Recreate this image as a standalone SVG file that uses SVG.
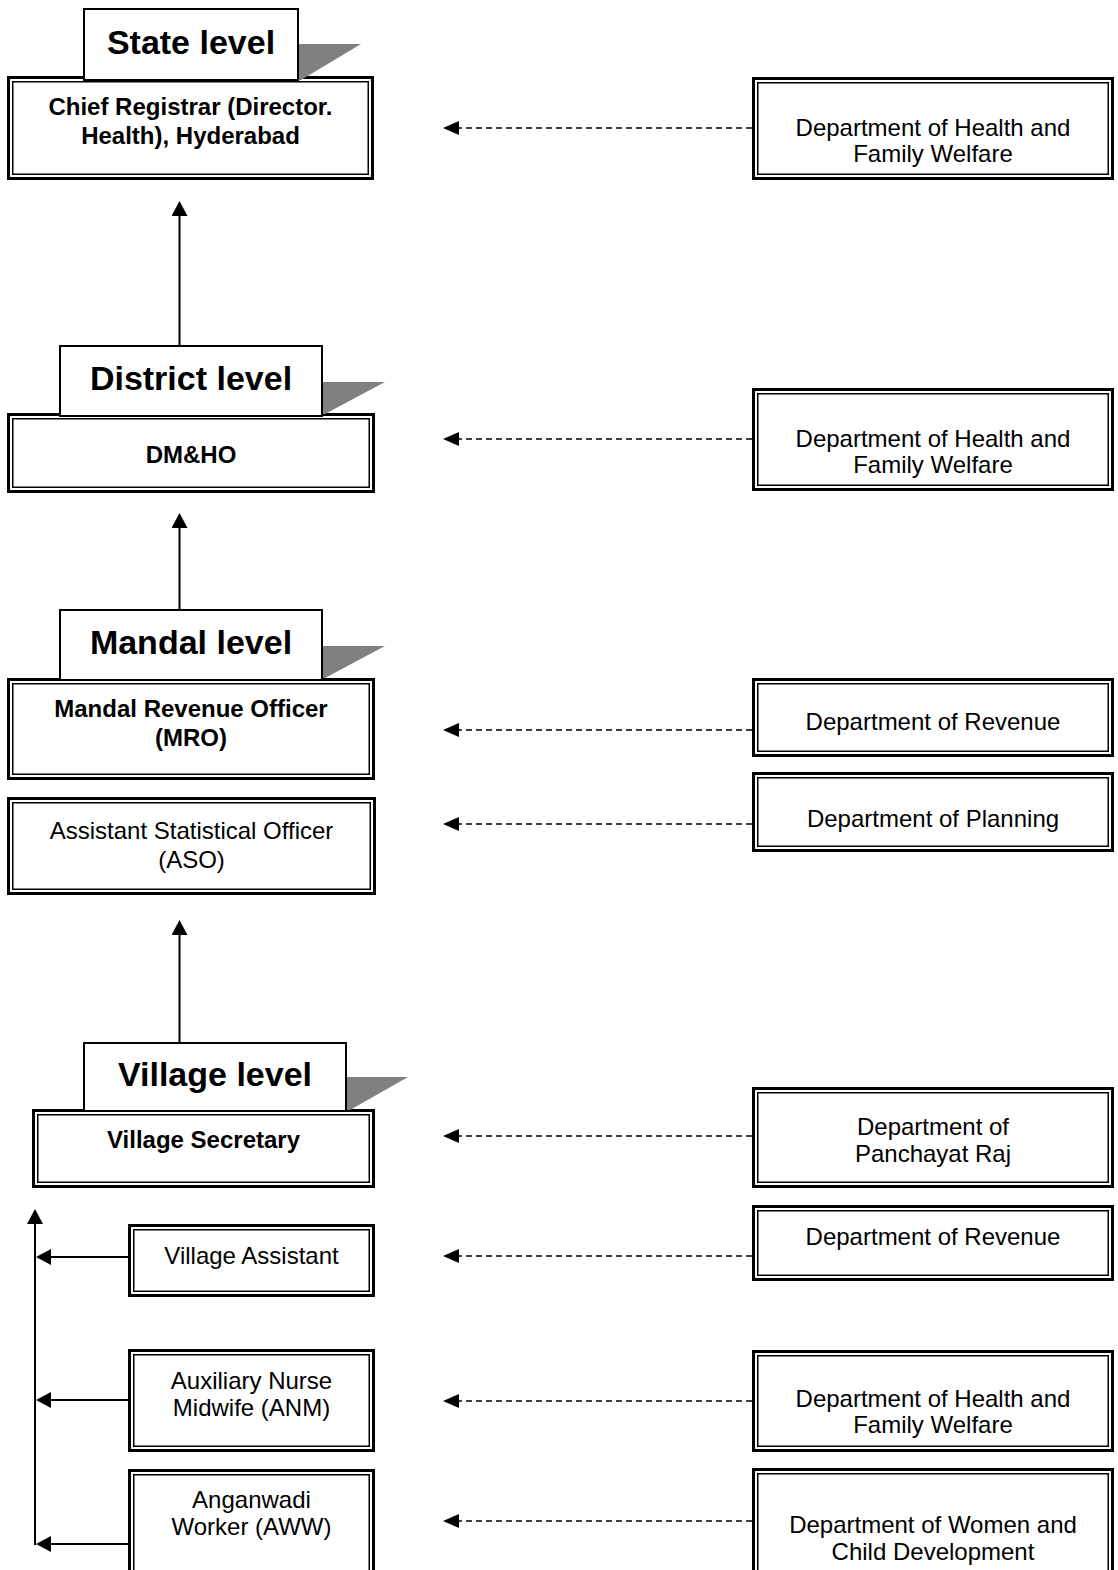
<svg xmlns="http://www.w3.org/2000/svg" width="1118" height="1570" viewBox="0 0 1118 1570">
<style>
text{font-family:"Liberation Sans",Arial,Helvetica,sans-serif;fill:#000;text-anchor:middle}
.b{font-weight:bold;font-size:24px}
.r{font-size:24px}
.lv{font-weight:bold;font-size:34px}
.o{fill:#fff;stroke:#000;stroke-width:3}
.i{fill:none;stroke:#000;stroke-width:1.5}
.lab{fill:#fff;stroke:#000;stroke-width:2}
.tri{fill:#808080;stroke:none}
.sol{stroke:#000;stroke-width:2;fill:none}
.dash{stroke:#000;stroke-width:1.5;stroke-dasharray:6 4;fill:none}
</style>
<defs>
<marker id="ah" markerUnits="userSpaceOnUse" viewBox="0 0 15 16" refX="0" refY="8" markerWidth="15" markerHeight="16" orient="auto"><path d="M0,0 L15,8 L0,16 z" fill="#000"/></marker>
<marker id="ad" markerUnits="userSpaceOnUse" viewBox="0 0 16 14" refX="0" refY="7" markerWidth="16" markerHeight="14" orient="auto"><path d="M0,0 L16,7 L0,14 z" fill="#000"/></marker>
</defs>

<g id="connectors">
<line class="sol" x1="179.5" y1="345" x2="179.5" y2="216" marker-end="url(#ah)"/>
<line class="sol" x1="179.5" y1="609" x2="179.5" y2="528" marker-end="url(#ah)"/>
<line class="sol" x1="179.5" y1="1042" x2="179.5" y2="935" marker-end="url(#ah)"/>
<line class="sol" x1="35" y1="1545" x2="35" y2="1224" marker-end="url(#ah)"/>
<line class="sol" x1="128" y1="1257" x2="51" y2="1257" marker-end="url(#ah)"/>
<line class="sol" x1="128" y1="1400" x2="51" y2="1400" marker-end="url(#ah)"/>
<line class="sol" x1="128" y1="1544" x2="51" y2="1544" marker-end="url(#ah)"/>
<line class="dash" x1="752" y1="128" x2="459" y2="128" marker-end="url(#ad)"/>
<line class="dash" x1="752" y1="439" x2="459" y2="439" marker-end="url(#ad)"/>
<line class="dash" x1="752" y1="730" x2="459" y2="730" marker-end="url(#ad)"/>
<line class="dash" x1="752" y1="824" x2="459" y2="824" marker-end="url(#ad)"/>
<line class="dash" x1="752" y1="1136" x2="459" y2="1136" marker-end="url(#ad)"/>
<line class="dash" x1="752" y1="1256" x2="459" y2="1256" marker-end="url(#ad)"/>
<line class="dash" x1="752" y1="1401" x2="459" y2="1401" marker-end="url(#ad)"/>
<line class="dash" x1="752" y1="1521" x2="459" y2="1521" marker-end="url(#ad)"/>
</g>

<g id="chief-registrar">
<rect class="o" x="8.5" y="77.5" width="364" height="101"/>
<rect class="i" x="12.75" y="81.75" width="355.5" height="92.5"/>
<text class="b" x="190.5" y="115">Chief Registrar (Director.</text>
<text class="b" x="190.5" y="144">Health), Hyderabad</text>
</g>
<g id="state-level">
<polygon class="tri" points="299,44 361,44 301,80 299,80"/>
<rect class="lab" x="84" y="9" width="214" height="71"/>
<text class="lv" x="191" y="54">State level</text>
</g>

<g id="dmho">
<rect class="o" x="8.5" y="414.5" width="365" height="77"/>
<rect class="i" x="12.75" y="418.75" width="356.5" height="68.5"/>
<text class="b" x="191" y="463">DM&amp;HO</text>
</g>
<g id="district-level">
<polygon class="tri" points="323,382 385,382 325,414 323,414"/>
<rect class="lab" x="60" y="346" width="262" height="70"/>
<text class="lv" x="191" y="390">District level</text>
</g>

<g id="mro">
<rect class="o" x="8.5" y="679.5" width="365" height="99"/>
<rect class="i" x="12.75" y="683.75" width="356.5" height="90.5"/>
<text class="b" x="191" y="717">Mandal Revenue Officer</text>
<text class="b" x="191" y="746">(MRO)</text>
</g>
<g id="mandal-level">
<polygon class="tri" points="323,646 385,646 325,678 323,678"/>
<rect class="lab" x="60" y="610" width="262" height="70"/>
<text class="lv" x="191" y="654">Mandal level</text>
</g>

<g id="aso">
<rect class="o" x="8.5" y="798.5" width="366" height="95"/>
<rect class="i" x="12.75" y="802.75" width="357.5" height="86.5"/>
<text class="r" x="191.5" y="839">Assistant Statistical Officer</text>
<text class="r" x="191.5" y="868">(ASO)</text>
</g>

<g id="village-secretary">
<rect class="o" x="33.5" y="1110.5" width="340" height="76"/>
<rect class="i" x="37.75" y="1114.75" width="331.5" height="67.5"/>
<text class="b" x="203.5" y="1148">Village Secretary</text>
</g>
<g id="village-level">
<polygon class="tri" points="347,1077 408,1077 350,1110 347,1110"/>
<rect class="lab" x="84" y="1043" width="262" height="68"/>
<text class="lv" x="215" y="1086">Village level</text>
</g>

<g id="village-assistant">
<rect class="o" x="129.5" y="1225.5" width="244" height="70"/>
<rect class="i" x="133.75" y="1229.75" width="235.5" height="61.5"/>
<text class="r" x="251.5" y="1264">Village Assistant</text>
</g>

<g id="anm">
<rect class="o" x="129.5" y="1350.5" width="244" height="100"/>
<rect class="i" x="133.75" y="1354.75" width="235.5" height="91.5"/>
<text class="r" x="251.5" y="1389">Auxiliary Nurse</text>
<text class="r" x="251.5" y="1416">Midwife (ANM)</text>
</g>

<g id="aww">
<rect class="o" x="129.5" y="1470.5" width="244" height="110"/>
<rect class="i" x="133.75" y="1474.75" width="235.5" height="110"/>
<text class="r" x="251.5" y="1508">Anganwadi</text>
<text class="r" x="251.5" y="1535">Worker (AWW)</text>
</g>

<g id="dept-health-1">
<rect class="o" x="753.5" y="78.5" width="359" height="100"/>
<rect class="i" x="757.75" y="82.75" width="350.5" height="91.5"/>
<text class="r" x="933" y="136">Department of Health and</text>
<text class="r" x="933" y="162">Family Welfare</text>
</g>

<g id="dept-health-2">
<rect class="o" x="753.5" y="389.5" width="359" height="100"/>
<rect class="i" x="757.75" y="393.75" width="350.5" height="91.5"/>
<text class="r" x="933" y="447">Department of Health and</text>
<text class="r" x="933" y="473">Family Welfare</text>
</g>

<g id="dept-revenue-1">
<rect class="o" x="753.5" y="679.5" width="359" height="76"/>
<rect class="i" x="757.75" y="683.75" width="350.5" height="67.5"/>
<text class="r" x="933" y="730">Department of Revenue</text>
</g>

<g id="dept-planning">
<rect class="o" x="753.5" y="773.5" width="359" height="77"/>
<rect class="i" x="757.75" y="777.75" width="350.5" height="68.5"/>
<text class="r" x="933" y="827">Department of Planning</text>
</g>

<g id="dept-panchayat">
<rect class="o" x="753.5" y="1088.5" width="359" height="98"/>
<rect class="i" x="757.75" y="1092.75" width="350.5" height="89.5"/>
<text class="r" x="933" y="1135">Department of</text>
<text class="r" x="933" y="1162">Panchayat Raj</text>
</g>

<g id="dept-revenue-2">
<rect class="o" x="753.5" y="1206.5" width="359" height="73"/>
<rect class="i" x="757.75" y="1210.75" width="350.5" height="64.5"/>
<text class="r" x="933" y="1245">Department of Revenue</text>
</g>

<g id="dept-health-3">
<rect class="o" x="753.5" y="1351.5" width="359" height="99"/>
<rect class="i" x="757.75" y="1355.75" width="350.5" height="90.5"/>
<text class="r" x="933" y="1407">Department of Health and</text>
<text class="r" x="933" y="1433">Family Welfare</text>
</g>

<g id="dept-women">
<rect class="o" x="753.5" y="1469.5" width="359" height="110"/>
<rect class="i" x="757.75" y="1473.75" width="350.5" height="110"/>
<text class="r" x="933" y="1533">Department of Women and</text>
<text class="r" x="933" y="1560">Child Development</text>
</g>
</svg>
